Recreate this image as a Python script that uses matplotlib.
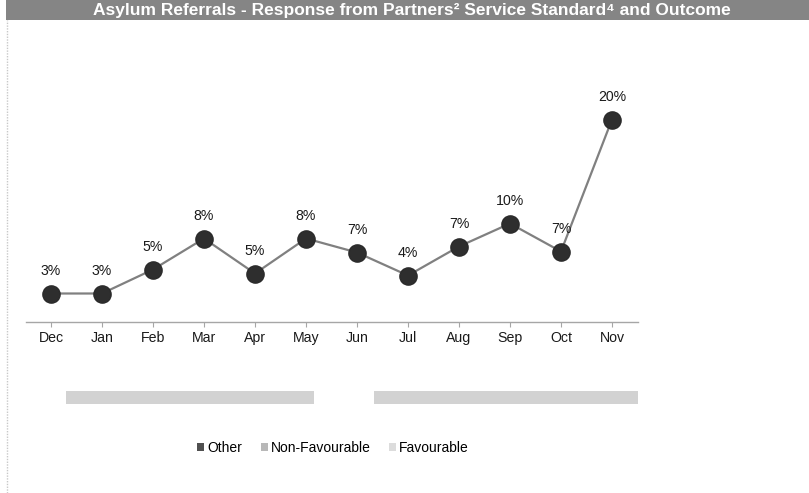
import matplotlib
matplotlib.use("Agg")
import matplotlib.pyplot as plt
from matplotlib.patches import Patch, Rectangle
from matplotlib.lines import Line2D

plt.rcParams['font.family'] = ['Liberation Sans', 'DejaVu Sans']

months = ["Dec", "Jan", "Feb", "Mar", "Apr", "May", "Jun", "Jul", "Aug", "Sep", "Oct", "Nov"]
other_pct = [2.8, 2.8, 5.2, 8.3, 4.8, 8.3, 6.9, 4.6, 7.5, 9.8, 7.0, 20.2]
other_labels = ["3%", "3%", "5%", "8%", "5%", "8%", "7%", "4%", "7%", "10%", "7%", "20%"]

# lower strip (stacked bar segments, % of width)
strip_blank1 = 6.6
strip_nonfav = 40.5
strip_blank2 = 9.9
strip_fav = 43.0

legend_labels = ["Other", "Non-Favourable", "Favourable"]
title = "Asylum Referrals - Response from Partners\u00b2 Service Standard\u2074 and Outcome"

W, H = 809, 493
fig = plt.figure(figsize=(W / 100, H / 100), dpi=100)

# title band
fig.patches.append(Rectangle((6 / W, 1 - 20 / H), 1 - 6 / W, 20 / H, transform=fig.transFigure,
                             facecolor="#858585", edgecolor="none", zorder=0))
fig.text(412 / W, 1 - 11 / H, title, ha="center", va="center", color="white",
         fontsize=12.5, fontweight="bold")
# left dotted border
fig.add_artist(Line2D([7 / W, 7 / W], [0, 1 - 20 / H], transform=fig.transFigure,
                      color="#c8c8c8", lw=1, ls=(0, (1, 1))))

# line chart
left, right = 25.5, 637.5
axis_y = 321.5
top = 30
ax = fig.add_axes([left / W, (H - axis_y) / H, (right - left) / W, (axis_y - top) / H])
x = list(range(len(months)))
ax.plot(x, other_pct, color="#808080", lw=1.6, marker="o", markersize=12.4,
        markerfacecolor="#2e2e2e", markeredgecolor="#2a2a2a", zorder=3, clip_on=False)
for xi, v, lab in zip(x, other_pct, other_labels):
    ax.annotate(lab, (xi, v), xytext=(0, 16.5), textcoords="offset points",
                ha="center", va="center", fontsize=10.2, color="#1a1a1a")
ax.set_xlim(-0.5, len(months) - 0.5)
ax.set_ylim(0, (axis_y - top) / 10.0)
ax.set_xticks(x)
ax.set_xticklabels(months, fontsize=10.2, color="#1a1a1a")
ax.set_yticks([])
for s in ["left", "right", "top"]:
    ax.spines[s].set_visible(False)
ax.spines["bottom"].set_color("#a6a6a6")
ax.spines["bottom"].set_linewidth(1)
ax.tick_params(axis="x", length=3.5, color="#a6a6a6", pad=3.5)
ax.patch.set_alpha(0)

# lower strip
ax2 = fig.add_axes([left / W, (H - 404) / H, (right - left) / W, 13 / H])
ax2.barh([0], [strip_nonfav], left=[strip_blank1], height=1.0, color="#d2d2d2")
ax2.barh([0], [strip_fav], left=[strip_blank1 + strip_nonfav + strip_blank2], height=1.0,
         color="#d2d2d2")
ax2.set_xlim(0, 100)
ax2.set_ylim(-0.5, 0.5)
ax2.axis("off")

# legend
handles = [Patch(facecolor="#505050", edgecolor="none"),
           Patch(facecolor="#b8b8b8", edgecolor="none"),
           Patch(facecolor="#dcdcdc", edgecolor="none")]
fig.legend(handles, legend_labels, loc="center", bbox_to_anchor=(333 / W, 1 - 448 / H),
           ncol=3, frameon=False, fontsize=10, handlelength=0.5, handleheight=0.5,
           handletextpad=0.2, columnspacing=1.35)

fig.savefig("out.png", dpi=100)
